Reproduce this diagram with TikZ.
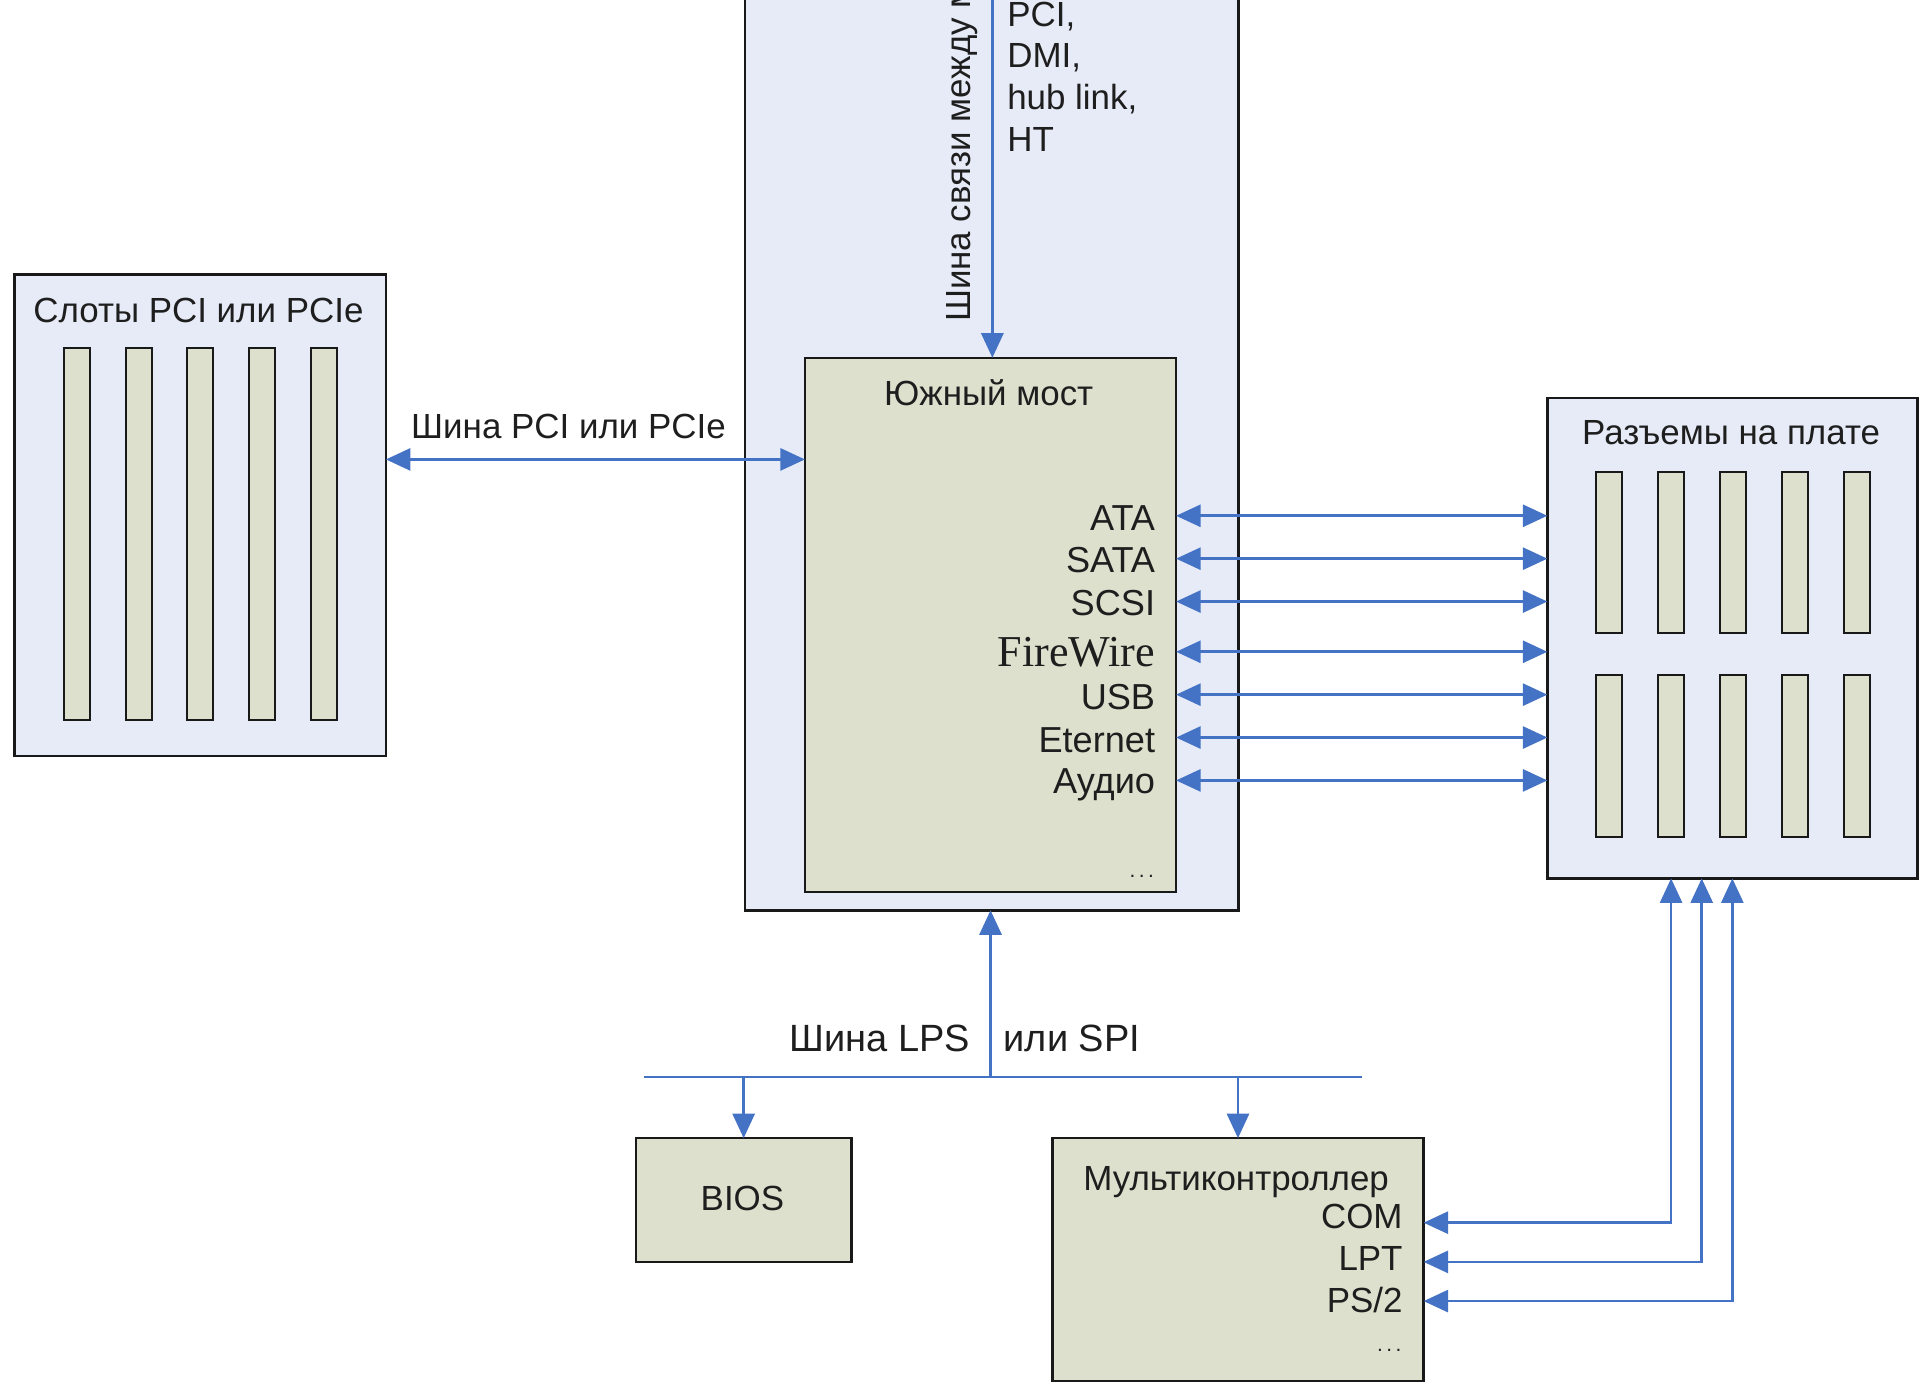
\documentclass[tikz,border=0pt]{standalone}
\usepackage{fontspec}
\setmainfont{Liberation Sans}
\newfontfamily\timesf{Liberation Serif}
\usetikzlibrary{arrows.meta}
\definecolor{obfill}{RGB}{230,235,247}
\definecolor{gfill}{RGB}{221,224,205}
\definecolor{lnblue}{RGB}{68,114,196}
\definecolor{edgec}{RGB}{25,25,25}
\definecolor{txtc}{RGB}{30,30,30}
\begin{document}
\begin{tikzpicture}[x=1pt,y=-1pt,
 box/.style={draw=edgec,line width=2pt,inner sep=0pt,outer sep=0pt},
 bluebox/.style={box,fill=obfill},
 greenbox/.style={box,fill=gfill},
 slot/.style={draw=edgec,line width=1.6pt,fill=gfill,inner sep=0pt,outer sep=0pt,minimum width=21pt},
 lbl/.style={inner sep=0pt,text=txtc,font=\fontsize{28.5}{33}\selectfont},
 port/.style={lbl,anchor=base east,font=\fontsize{29.5}{34}\selectfont},
 conn/.style={draw=lnblue,line width=2.2pt},
 arr/.style={conn,-{Triangle[length=20pt,width=18pt]}},
 dbl/.style={conn,{Triangle[length=20pt,width=18pt]}-{Triangle[length=20pt,width=18pt]}},
]
\useasboundingbox (0,0) rectangle (1568,1134.6);
\clip (0,0) rectangle (1568,1134.6);
\fill[white] (0,0) rectangle (1568,1134.6);

% boxes
\node[bluebox,minimum width=403pt,minimum height=763pt] (ob) at (809.5,361.5) {};
\node[greenbox,minimum width=303pt,minimum height=436pt] (sb) at (808.5,510) {};
\node[bluebox,minimum width=303pt,minimum height=393pt] (lb) at (163.5,420.5) {};
\node[bluebox,minimum width=302pt,minimum height=392pt] (rb) at (1414,521) {};
\node[greenbox,minimum width=176pt,minimum height=101pt] (bios) at (607,979.5) {};
\node[greenbox,minimum width=303pt,minimum height=198pt] (mc) at (1010.5,1028) {};

% slots
\foreach \i/\x in {1/63,2/113.5,3/163.5,4/214,5/264.5}
  \node[slot,minimum height=304pt] (ls\i) at (\x,436) {};
\foreach \i/\x in {1/1313.5,2/1364,3/1414.5,4/1465,5/1515.5}{
  \node[slot,minimum height=132pt] (rt\i) at (\x,451) {};
  \node[slot,minimum height=132pt] (rbt\i) at (\x,617) {};
}

% texts
\node[lbl,rotate=90,anchor=base west] (vt) at (792,263) {Шина связи между м};
\node[lbl,anchor=base west] (tpci) at (822,22) {PCI,};
\node[lbl,anchor=base west] (tdmi) at (822,55) {DMI,};
\node[lbl,anchor=base west] (thub) at (822,89) {hub link,};
\node[lbl,anchor=base west] (tht) at (822,124) {HT};

\node[lbl,anchor=base] (lbt) at (162,263) {Слоты PCI или PCIe};
\node[lbl,anchor=base] (pcil) at (464,358) {Шина PCI или PCIe};
\node[lbl,anchor=base] (sbt) at (807,331) {Южный мост};
\node[lbl,anchor=base] (rbtt) at (1413,363) {Разъемы на плате};

\node[port] (ata) at (943,433) {ATA};
\node[port] (sata) at (943,467) {SATA};
\node[port] (scsi) at (943,502) {SCSI};
\node[port,font=\timesf\fontsize{36}{40}\selectfont] (fw) at (943,544) {FireWire};
\node[port] (usb) at (943,579) {USB};
\node[port] (eth) at (943,614) {Eternet};
\node[port] (aud) at (943,648) {Аудио};
\node[lbl,anchor=base east,font=\fontsize{17}{19}\selectfont] (sbd) at (942,716) {.\,.\,.};

\node[lbl,anchor=base east,font=\fontsize{31}{36}\selectfont] (lps1) at (792,858) {Шина LPS};
\node[lbl,anchor=base west,font=\fontsize{31}{36}\selectfont] (lps2) at (819,858) {или SPI};

\node[lbl,anchor=base] (biost) at (606,988) {BIOS};
\node[lbl,anchor=base] (mct) at (1009,972) {Мультиконтроллер};
\node[lbl,anchor=base east] (com) at (1145,1003) {COM};
\node[lbl,anchor=base east] (lpt) at (1145,1037) {LPT};
\node[lbl,anchor=base east] (ps2) at (1145,1071) {PS/2};
\node[lbl,anchor=base east,font=\fontsize{17}{19}\selectfont] (mcd) at (1144,1103) {.\,.\,.};

% connectors
\coordinate (ntop) at (810,-10);
\draw[arr] (ntop) -- (ntop |- sb.north);
\draw[dbl] (lb.east |- 0,375) -- (sb.west |- 0,375);
\foreach \y in {421,456,491,532,567,602,637}
  \draw[dbl] (sb.east |- 0,\y) -- (rb.west |- 0,\y);

\coordinate (busl) at (526,879);
\coordinate (busr) at (1112,879);
\coordinate (busc) at (808.5,879);
\draw[conn] (busl) -- (busr);
\draw[arr] (busc) -- (busc |- ob.south);
\draw[arr] (bios.north |- busl) -- (bios.north);
\draw[arr] (mc.north |- busl) -- (mc.north);

\draw[dbl] (rb.south -| 1364,0) |- (mc.east |- 0,998);
\draw[dbl] (rb.south -| 1389,0) |- (mc.east |- 0,1030);
\draw[dbl] (rb.south -| 1414,0) |- (mc.east |- 0,1062);
\end{tikzpicture}
\end{document}
